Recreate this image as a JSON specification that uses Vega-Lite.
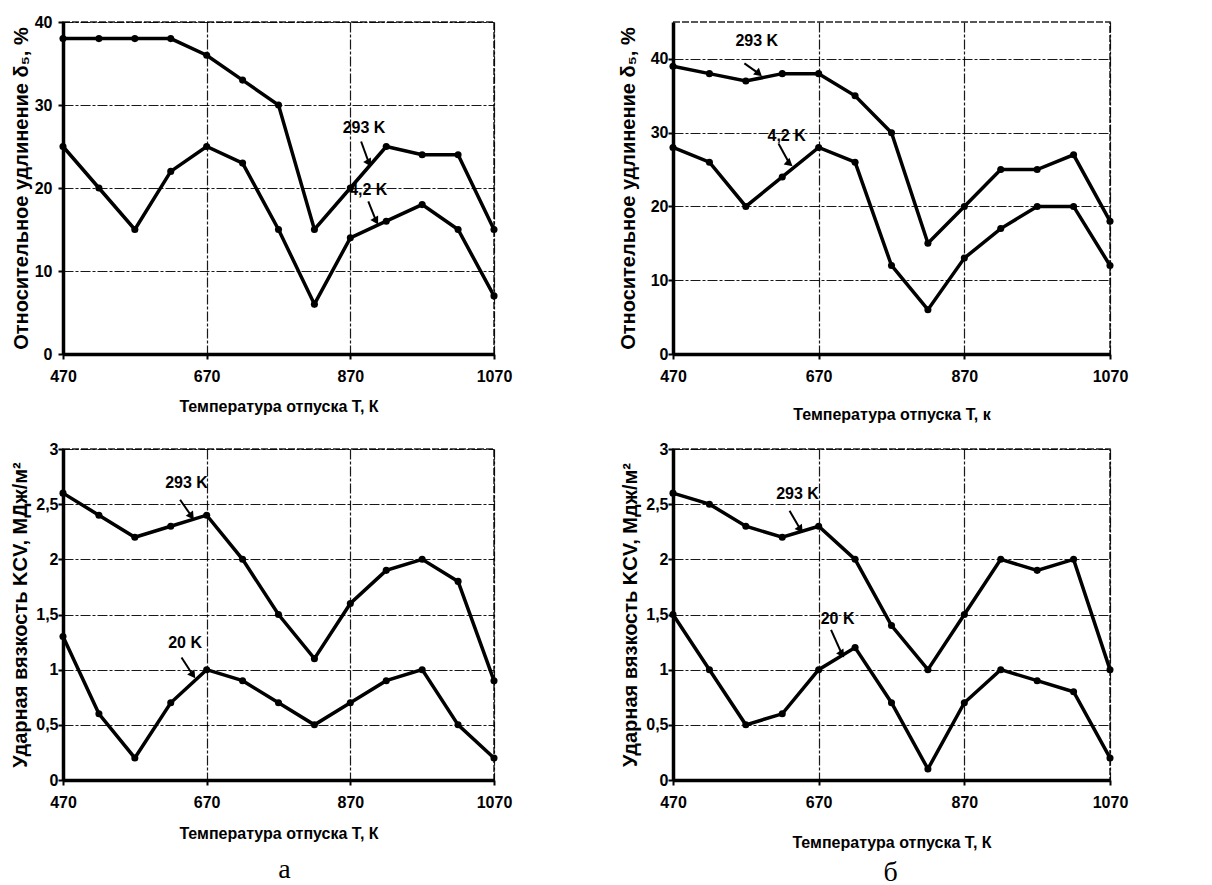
{
  "$schema": "https://vega.github.io/schema/vega-lite/v6.json",
  "background": "white",
  "padding": {"left": 10, "top": 13, "right": 5, "bottom": 0},
  "datasets": {
    "pts": [
      {"p":"a1","s":"293","T":470,"v":38},{"p":"a1","s":"293","T":520,"v":38},{"p":"a1","s":"293","T":570,"v":38},{"p":"a1","s":"293","T":620,"v":38},{"p":"a1","s":"293","T":670,"v":36},{"p":"a1","s":"293","T":720,"v":33},{"p":"a1","s":"293","T":770,"v":30},{"p":"a1","s":"293","T":820,"v":15},{"p":"a1","s":"293","T":870,"v":20},{"p":"a1","s":"293","T":920,"v":25},{"p":"a1","s":"293","T":970,"v":24},{"p":"a1","s":"293","T":1020,"v":24},{"p":"a1","s":"293","T":1070,"v":15},
      {"p":"a1","s":"4.2","T":470,"v":25},{"p":"a1","s":"4.2","T":520,"v":20},{"p":"a1","s":"4.2","T":570,"v":15},{"p":"a1","s":"4.2","T":620,"v":22},{"p":"a1","s":"4.2","T":670,"v":25},{"p":"a1","s":"4.2","T":720,"v":23},{"p":"a1","s":"4.2","T":770,"v":15},{"p":"a1","s":"4.2","T":820,"v":6},{"p":"a1","s":"4.2","T":870,"v":14},{"p":"a1","s":"4.2","T":920,"v":16},{"p":"a1","s":"4.2","T":970,"v":18},{"p":"a1","s":"4.2","T":1020,"v":15},{"p":"a1","s":"4.2","T":1070,"v":7},
      {"p":"b1","s":"293","T":470,"v":39},{"p":"b1","s":"293","T":520,"v":38},{"p":"b1","s":"293","T":570,"v":37},{"p":"b1","s":"293","T":620,"v":38},{"p":"b1","s":"293","T":670,"v":38},{"p":"b1","s":"293","T":720,"v":35},{"p":"b1","s":"293","T":770,"v":30},{"p":"b1","s":"293","T":820,"v":15},{"p":"b1","s":"293","T":870,"v":20},{"p":"b1","s":"293","T":920,"v":25},{"p":"b1","s":"293","T":970,"v":25},{"p":"b1","s":"293","T":1020,"v":27},{"p":"b1","s":"293","T":1070,"v":18},
      {"p":"b1","s":"4.2","T":470,"v":28},{"p":"b1","s":"4.2","T":520,"v":26},{"p":"b1","s":"4.2","T":570,"v":20},{"p":"b1","s":"4.2","T":620,"v":24},{"p":"b1","s":"4.2","T":670,"v":28},{"p":"b1","s":"4.2","T":720,"v":26},{"p":"b1","s":"4.2","T":770,"v":12},{"p":"b1","s":"4.2","T":820,"v":6},{"p":"b1","s":"4.2","T":870,"v":13},{"p":"b1","s":"4.2","T":920,"v":17},{"p":"b1","s":"4.2","T":970,"v":20},{"p":"b1","s":"4.2","T":1020,"v":20},{"p":"b1","s":"4.2","T":1070,"v":12},
      {"p":"a2","s":"293","T":470,"v":2.6},{"p":"a2","s":"293","T":520,"v":2.4},{"p":"a2","s":"293","T":570,"v":2.2},{"p":"a2","s":"293","T":620,"v":2.3},{"p":"a2","s":"293","T":670,"v":2.4},{"p":"a2","s":"293","T":720,"v":2.0},{"p":"a2","s":"293","T":770,"v":1.5},{"p":"a2","s":"293","T":820,"v":1.1},{"p":"a2","s":"293","T":870,"v":1.6},{"p":"a2","s":"293","T":920,"v":1.9},{"p":"a2","s":"293","T":970,"v":2.0},{"p":"a2","s":"293","T":1020,"v":1.8},{"p":"a2","s":"293","T":1070,"v":0.9},
      {"p":"a2","s":"20","T":470,"v":1.3},{"p":"a2","s":"20","T":520,"v":0.6},{"p":"a2","s":"20","T":570,"v":0.2},{"p":"a2","s":"20","T":620,"v":0.7},{"p":"a2","s":"20","T":670,"v":1.0},{"p":"a2","s":"20","T":720,"v":0.9},{"p":"a2","s":"20","T":770,"v":0.7},{"p":"a2","s":"20","T":820,"v":0.5},{"p":"a2","s":"20","T":870,"v":0.7},{"p":"a2","s":"20","T":920,"v":0.9},{"p":"a2","s":"20","T":970,"v":1.0},{"p":"a2","s":"20","T":1020,"v":0.5},{"p":"a2","s":"20","T":1070,"v":0.2},
      {"p":"b2","s":"293","T":470,"v":2.6},{"p":"b2","s":"293","T":520,"v":2.5},{"p":"b2","s":"293","T":570,"v":2.3},{"p":"b2","s":"293","T":620,"v":2.2},{"p":"b2","s":"293","T":670,"v":2.3},{"p":"b2","s":"293","T":720,"v":2.0},{"p":"b2","s":"293","T":770,"v":1.4},{"p":"b2","s":"293","T":820,"v":1.0},{"p":"b2","s":"293","T":870,"v":1.5},{"p":"b2","s":"293","T":920,"v":2.0},{"p":"b2","s":"293","T":970,"v":1.9},{"p":"b2","s":"293","T":1020,"v":2.0},{"p":"b2","s":"293","T":1070,"v":1.0},
      {"p":"b2","s":"20","T":470,"v":1.5},{"p":"b2","s":"20","T":520,"v":1.0},{"p":"b2","s":"20","T":570,"v":0.5},{"p":"b2","s":"20","T":620,"v":0.6},{"p":"b2","s":"20","T":670,"v":1.0},{"p":"b2","s":"20","T":720,"v":1.2},{"p":"b2","s":"20","T":770,"v":0.7},{"p":"b2","s":"20","T":820,"v":0.1},{"p":"b2","s":"20","T":870,"v":0.7},{"p":"b2","s":"20","T":920,"v":1.0},{"p":"b2","s":"20","T":970,"v":0.9},{"p":"b2","s":"20","T":1020,"v":0.8},{"p":"b2","s":"20","T":1070,"v":0.2}
    ],
    "ann": [
      {"p":"a1","label":"293 K","T":889,"v":27.2},{"p":"a1","label":"4,2 K","T":895,"v":19.8},
      {"p":"b1","label":"293 K","T":585,"v":42.4},{"p":"b1","label":"4,2 K","T":626,"v":29.5},
      {"p":"a2","label":"293 K","T":642,"v":2.69},{"p":"a2","label":"20 K","T":640,"v":1.24},
      {"p":"b2","label":"293 K","T":641,"v":2.59},{"p":"b2","label":"20 K","T":696,"v":1.46}
    ],
    "arr": [
      {"p":"a1","T":885,"v":25.6,"T2":896,"v2":23.0},{"p":"a1","T":895,"v":18.4,"T2":906,"v2":16.0},
      {"p":"b1","T":568,"v":39.4,"T2":588,"v2":38.0},{"p":"b1","T":615,"v":28.5,"T2":630,"v2":25.8},
      {"p":"a2","T":633,"v":2.54,"T2":649,"v2":2.39},{"p":"a2","T":635,"v":1.11,"T2":651,"v2":0.95},
      {"p":"b2","T":630,"v":2.44,"T2":645,"v2":2.27},{"p":"b2","T":687,"v":1.36,"T2":702,"v2":1.14}
    ]
  },
  "columns": 2,
  "spacing": {"row": 95, "column": 179},
  "bounds": "flush",
  "align": "each",
  "concat": [
    {
      "width": 431, "height": 332,
      "layer": [
        {"data": {"name": "pts"}, "transform": [{"filter": "datum.p == 'a1'"}],
         "mark": {"type": "line", "color": "black", "strokeWidth": 3.5, "point": {"filled": true, "color": "black", "size": 50, "opacity": 1}},
         "encoding": {
           "x": {"field": "T", "type": "quantitative", "scale": {"domain": [470, 1070], "nice": false, "zero": false}, "axis": {"values": [470, 670, 870, 1070], "format": "d", "title": "Температура отпуска Т, К", "titlePadding": 14}},
           "y": {"field": "v", "type": "quantitative", "scale": {"domain": [0, 40], "nice": false}, "axis": {"values": [0, 10, 20, 30, 40], "title": "Относительное удлинение  δ₅, %", "titlePadding": 3, "labelPadding": 6}},
           "detail": {"field": "s"}}},
        {"data": {"name": "arr"}, "transform": [{"filter": "datum.p == 'a1'"}],
         "mark": {"type": "rule", "color": "black", "strokeWidth": 2},
         "encoding": {"x": {"field": "T", "type": "quantitative"}, "y": {"field": "v", "type": "quantitative"}, "x2": {"field": "T2"}, "y2": {"field": "v2"}}},
        {"data": {"name": "arr"}, "transform": [{"filter": "datum.p == 'a1'"}],
         "mark": {"type": "point", "shape": "triangle-down", "filled": true, "color": "black", "opacity": 1, "size": 80, "angle": -30},
         "encoding": {"x": {"field": "T2", "type": "quantitative"}, "y": {"field": "v2", "type": "quantitative"}}},
        {"data": {"name": "ann"}, "transform": [{"filter": "datum.p == 'a1'"}],
         "mark": {"type": "text", "font": "Liberation Sans", "fontWeight": "bold", "fontSize": 16, "color": "black"},
         "encoding": {"x": {"field": "T", "type": "quantitative"}, "y": {"field": "v", "type": "quantitative"}, "text": {"field": "label"}}}
      ]
    },
    {
      "width": 437, "height": 332,
      "layer": [
        {"data": {"name": "pts"}, "transform": [{"filter": "datum.p == 'b1'"}],
         "mark": {"type": "line", "color": "black", "strokeWidth": 3.5, "point": {"filled": true, "color": "black", "size": 50, "opacity": 1}},
         "encoding": {
           "x": {"field": "T", "type": "quantitative", "scale": {"domain": [470, 1070], "nice": false, "zero": false}, "axis": {"values": [470, 670, 870, 1070], "format": "d", "title": "Температура отпуска Т, к", "titlePadding": 22}},
           "y": {"field": "v", "type": "quantitative", "scale": {"domain": [0, 45], "nice": false}, "axis": {"values": [0, 5, 10, 15, 20, 25, 30, 35, 40, 45], "title": "Относительное удлинение  δ₅, %", "titlePadding": 12, "labelPadding": 0}},
           "detail": {"field": "s"}}},
        {"data": {"name": "arr"}, "transform": [{"filter": "datum.p == 'b1'"}],
         "mark": {"type": "rule", "color": "black", "strokeWidth": 2},
         "encoding": {"x": {"field": "T", "type": "quantitative"}, "y": {"field": "v", "type": "quantitative"}, "x2": {"field": "T2"}, "y2": {"field": "v2"}}},
        {"data": {"name": "arr"}, "transform": [{"filter": "datum.p == 'b1'"}],
         "mark": {"type": "point", "shape": "triangle-down", "filled": true, "color": "black", "opacity": 1, "size": 80, "angle": -50},
         "encoding": {"x": {"field": "T2", "type": "quantitative"}, "y": {"field": "v2", "type": "quantitative"}}},
        {"data": {"name": "ann"}, "transform": [{"filter": "datum.p == 'b1'"}],
         "mark": {"type": "text", "font": "Liberation Sans", "fontWeight": "bold", "fontSize": 16, "color": "black"},
         "encoding": {"x": {"field": "T", "type": "quantitative"}, "y": {"field": "v", "type": "quantitative"}, "text": {"field": "label"}}}
      ]
    },
    {
      "width": 431, "height": 331,
      "title": {"text": "а", "orient": "bottom", "frame": "group", "anchor": "middle", "font": "Liberation Serif", "fontSize": 28, "fontWeight": "normal", "color": "black", "offset": 15, "dx": 6},
      "layer": [
        {"data": {"name": "pts"}, "transform": [{"filter": "datum.p == 'a2'"}],
         "mark": {"type": "line", "color": "black", "strokeWidth": 3.5, "point": {"filled": true, "color": "black", "size": 50, "opacity": 1}},
         "encoding": {
           "x": {"field": "T", "type": "quantitative", "scale": {"domain": [470, 1070], "nice": false, "zero": false}, "axis": {"values": [470, 670, 870, 1070], "format": "d", "title": "Температура отпуска Т, К", "titlePadding": 15}},
           "y": {"field": "v", "type": "quantitative", "scale": {"domain": [0, 3], "nice": false}, "axis": {"values": [0, 0.5, 1, 1.5, 2, 2.5, 3], "format": "~g", "labelExpr": "replace(datum.label, '.', ',')", "title": "Ударная вязкость KCV, МДж/м²", "titlePadding": 5, "labelPadding": 0}},
           "detail": {"field": "s"}}},
        {"data": {"name": "arr"}, "transform": [{"filter": "datum.p == 'a2'"}],
         "mark": {"type": "rule", "color": "black", "strokeWidth": 2},
         "encoding": {"x": {"field": "T", "type": "quantitative"}, "y": {"field": "v", "type": "quantitative"}, "x2": {"field": "T2"}, "y2": {"field": "v2"}}},
        {"data": {"name": "arr"}, "transform": [{"filter": "datum.p == 'a2'"}],
         "mark": {"type": "point", "shape": "triangle-down", "filled": true, "color": "black", "opacity": 1, "size": 80, "angle": -35},
         "encoding": {"x": {"field": "T2", "type": "quantitative"}, "y": {"field": "v2", "type": "quantitative"}}},
        {"data": {"name": "ann"}, "transform": [{"filter": "datum.p == 'a2'"}],
         "mark": {"type": "text", "font": "Liberation Sans", "fontWeight": "bold", "fontSize": 16, "color": "black"},
         "encoding": {"x": {"field": "T", "type": "quantitative"}, "y": {"field": "v", "type": "quantitative"}, "text": {"field": "label"}}}
      ]
    },
    {
      "width": 437, "height": 331,
      "title": {"text": "б", "orient": "bottom", "frame": "group", "anchor": "middle", "font": "Liberation Serif", "fontSize": 28, "fontWeight": "normal", "color": "black", "offset": 9, "dx": -1},
      "layer": [
        {"data": {"name": "pts"}, "transform": [{"filter": "datum.p == 'b2'"}],
         "mark": {"type": "line", "color": "black", "strokeWidth": 3.5, "point": {"filled": true, "color": "black", "size": 50, "opacity": 1}},
         "encoding": {
           "x": {"field": "T", "type": "quantitative", "scale": {"domain": [470, 1070], "nice": false, "zero": false}, "axis": {"values": [470, 670, 870, 1070], "format": "d", "title": "Температура отпуска Т, К", "titlePadding": 24}},
           "y": {"field": "v", "type": "quantitative", "scale": {"domain": [0, 3], "nice": false}, "axis": {"values": [0, 0.5, 1, 1.5, 2, 2.5, 3], "format": "~g", "labelExpr": "replace(datum.label, '.', ',')", "title": "Ударная вязкость KCV, Мдж/м²", "titlePadding": 5, "labelPadding": 0}},
           "detail": {"field": "s"}}},
        {"data": {"name": "arr"}, "transform": [{"filter": "datum.p == 'b2'"}],
         "mark": {"type": "rule", "color": "black", "strokeWidth": 2},
         "encoding": {"x": {"field": "T", "type": "quantitative"}, "y": {"field": "v", "type": "quantitative"}, "x2": {"field": "T2"}, "y2": {"field": "v2"}}},
        {"data": {"name": "arr"}, "transform": [{"filter": "datum.p == 'b2'"}],
         "mark": {"type": "point", "shape": "triangle-down", "filled": true, "color": "black", "opacity": 1, "size": 80, "angle": -35},
         "encoding": {"x": {"field": "T2", "type": "quantitative"}, "y": {"field": "v2", "type": "quantitative"}}},
        {"data": {"name": "ann"}, "transform": [{"filter": "datum.p == 'b2'"}],
         "mark": {"type": "text", "font": "Liberation Sans", "fontWeight": "bold", "fontSize": 16, "color": "black"},
         "encoding": {"x": {"field": "T", "type": "quantitative"}, "y": {"field": "v", "type": "quantitative"}, "text": {"field": "label"}}}
      ]
    }
  ],
  "config": {
    "font": "Liberation Sans",
    "view": {"stroke": "#222", "strokeWidth": 1.5, "strokeDash": [7, 2]},
    "axis": {
      "labelFont": "Liberation Sans", "labelFontWeight": "bold", "labelFontSize": 16, "labelColor": "black",
      "titleFont": "Liberation Sans", "titleFontWeight": "bold", "titleFontSize": 20, "titleColor": "black",
      "domainColor": "black", "domainWidth": 3.5,
      "tickColor": "black", "tickWidth": 2, "tickSize": 5,
      "grid": true, "gridColor": "black", "gridWidth": 1.2, "gridDash": [10, 2, 3, 2], "gridOpacity": 0.9,
      "labelFlush": false, "labelOverlap": false
    },
    "axisX": {"labelPadding": 9, "titleFontSize": 16}
  }
}
